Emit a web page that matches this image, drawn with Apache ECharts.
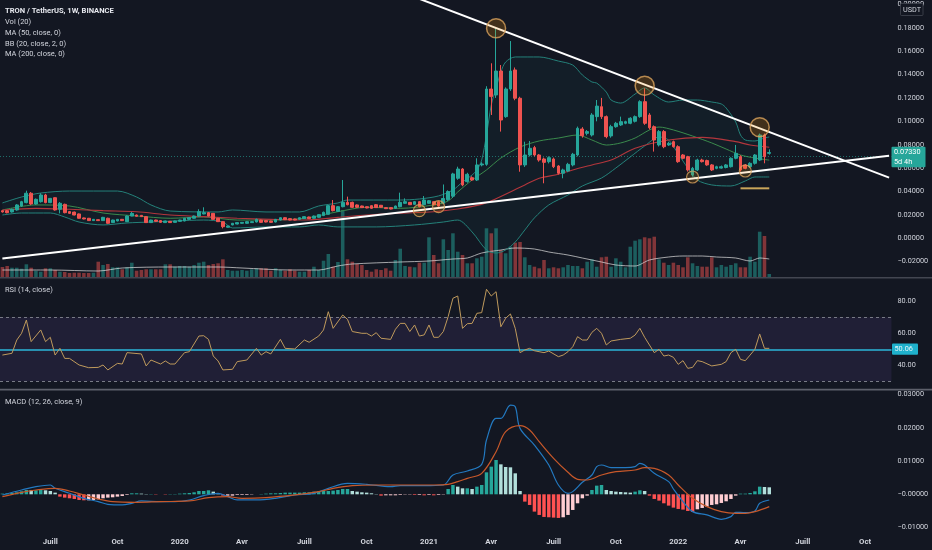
<!DOCTYPE html>
<html><head><meta charset="utf-8">
<script src="https://cdn.jsdelivr.net/npm/echarts@6.0.0/dist/echarts.min.js"></script>
<style>html,body{margin:0;padding:0;background:#131722;}#c{width:932px;height:550px;}</style>
</head><body><div id="c"></div>
<script>
// ---------- categories (weekly) ----------
const startDate = Date.UTC(2019, 3, 22);
const weekCount = 186;
const quarterMonths = [0, 3, 6, 9];
const quarterNames = ['', 'Avr', 'Juill', 'Oct'];

// ---------- price data (TRX/USDT weekly) ----------
const openP = [
.0236,.0236,.0225,.0242,.0276,.0305,.0385,.0293,.0313,.0370,
.0305,.0347,.0248,.0290,.0228,.0224,.0208,.0174,.0171,.0151,
.0159,.0151,.0171,.0134,.0148,.0162,.0142,.0190,.0199,.0196,
.0185,.0134,.0156,.0151,.0134,.0145,.0136,.0145,.0148,.0162,
.0171,.0190,.0208,.0219,.0213,.0171,.0142,.0094,.0114,.0122,
.0128,.0128,.0134,.0139,.0156,.0151,.0148,.0139,.0156,.0176,
.0168,.0165,.0162,.0168,.0182,.0171,.0179,.0194,.0205,.0279,
.0230,.0270,.0307,.0307,.0285,.0276,.0270,.0279,.0287,.0282,
.0262,.0262,.0256,.0270,.0299,.0307,.0290,.0313,.0287,.0299,
.0313,.0313,.0300,.0330,.0360,.0513,.0592,.0484,.0518,.0498,
.0627,.0632,.1276,.1225,.1430,.1040,.1276,.1439,.1197,.0627,
.0712,.0775,.0712,.0678,.0655,.0678,.0618,.0556,.0575,.0627,
.0712,.0934,.0897,.0883,.1040,.1125,.1040,.0875,.0954,.0969,
.0983,.0983,.1000,.1040,.1168,.1054,.0954,.0798,.0912,.0798,
.0826,.0783,.0712,.0698,.0541,.0584,.0669,.0664,.0627,.0598,
.0600,.0605,.0612,.0684,.0698,.0627,.0612,.0641,.0669,.0883,.0726];
const highP = [
.0240,.0242,.0253,.0292,.0320,.0407,.0395,.0340,.0385,.0380,
.0345,.0350,.0310,.0296,.0232,.0228,.0212,.0177,.0174,.0165,
.0162,.0183,.0176,.0159,.0165,.0165,.0196,.0225,.0203,.0199,
.0188,.0159,.0159,.0154,.0151,.0148,.0151,.0159,.0174,.0179,
.0194,.0248,.0265,.0225,.0216,.0174,.0145,.0108,.0131,.0137,
.0139,.0145,.0145,.0168,.0159,.0154,.0151,.0165,.0179,.0179,
.0171,.0168,.0179,.0188,.0185,.0194,.0205,.0228,.0285,.0327,
.0276,.0498,.0356,.0313,.0290,.0279,.0273,.0282,.0293,.0285,
.0265,.0265,.0279,.0390,.0341,.0310,.0316,.0316,.0361,.0327,
.0316,.0316,.0460,.0410,.0560,.0612,.0600,.0560,.0530,.0684,
.0650,.1300,.1496,.1795,.1481,.1290,.1686,.1460,.1210,.0826,
.0832,.0790,.0720,.0690,.0700,.0690,.0625,.0595,.0645,.0730,
.0955,.0950,.0925,.1070,.1182,.1200,.1050,.0970,.0995,.1040,
.1005,.1035,.1050,.1180,.1282,.1070,.0965,.0925,.0925,.0825,
.0835,.0795,.0720,.0705,.0610,.0680,.0680,.0672,.0635,.0620,
.0622,.0635,.0692,.0798,.0710,.0635,.0650,.0720,.0895,.0895,.0760];
const lowP = [
.0220,.0213,.0220,.0236,.0270,.0299,.0285,.0287,.0305,.0299,
.0300,.0236,.0213,.0213,.0208,.0196,.0168,.0162,.0148,.0148,
.0148,.0148,.0125,.0131,.0145,.0148,.0139,.0188,.0185,.0182,
.0131,.0131,.0142,.0133,.0131,.0131,.0134,.0142,.0145,.0159,
.0168,.0185,.0205,.0188,.0159,.0139,.0085,.0091,.0111,.0119,
.0125,.0125,.0131,.0136,.0133,.0136,.0133,.0136,.0153,.0156,
.0153,.0153,.0159,.0165,.0165,.0168,.0176,.0190,.0202,.0230,
.0225,.0265,.0282,.0259,.0259,.0259,.0256,.0253,.0259,.0262,
.0250,.0247,.0253,.0265,.0296,.0284,.0287,.0265,.0282,.0296,
.0282,.0270,.0293,.0320,.0345,.0500,.0445,.0475,.0490,.0490,
.0615,.0620,.1054,.1200,.0912,.1030,.1260,.1180,.0569,.0610,
.0700,.0700,.0655,.0470,.0640,.0600,.0545,.0513,.0565,.0615,
.0700,.0860,.0880,.0870,.1000,.1020,.0855,.0860,.0945,.0960,
.0975,.0975,.0990,.1030,.0970,.0930,.0741,.0785,.0770,.0790,
.0775,.0645,.0675,.0570,.0527,.0575,.0648,.0620,.0575,.0590,
.0595,.0598,.0605,.0675,.0570,.0590,.0600,.0630,.0660,.0641,.0715];
const closeP = [
.0225,.0219,.0248,.0285,.0313,.0385,.0293,.0333,.0370,.0305,
.0341,.0242,.0299,.0219,.0213,.0199,.0171,.0165,.0151,.0162,
.0151,.0179,.0128,.0156,.0162,.0151,.0190,.0213,.0188,.0185,
.0134,.0156,.0145,.0136,.0148,.0134,.0148,.0156,.0171,.0176,
.0190,.0228,.0219,.0190,.0162,.0142,.0099,.0105,.0128,.0134,
.0136,.0142,.0142,.0162,.0136,.0139,.0136,.0162,.0176,.0159,
.0156,.0156,.0176,.0185,.0168,.0190,.0202,.0222,.0279,.0236,
.0270,.0307,.0287,.0265,.0265,.0262,.0259,.0256,.0262,.0265,
.0253,.0250,.0276,.0307,.0313,.0287,.0313,.0270,.0327,.0321,
.0287,.0276,.0340,.0400,.0550,.0592,.0456,.0547,.0498,.0627,
.0635,.1276,.1211,.1430,.1011,.1276,.1430,.1197,.0627,.0712,
.0769,.0712,.0669,.0649,.0689,.0612,.0556,.0584,.0632,.0718,
.0940,.0877,.0912,.1054,.1130,.1040,.0869,.0954,.0983,.0997,
.0997,.1026,.1040,.1168,.0983,.0945,.0840,.0912,.0783,.0812,
.0783,.0655,.0684,.0584,.0598,.0669,.0655,.0627,.0584,.0612,
.0612,.0627,.0684,.0726,.0584,.0598,.0641,.0712,.0883,.0698,.0733];

// volume (relative units)
const volume = [
100,110,93,93,83,127,93,63,53,87,
87,70,53,50,40,43,43,40,40,43,
153,120,130,97,97,77,97,143,63,70,
77,77,77,77,127,127,103,110,110,103,
120,143,153,120,130,137,177,70,63,63,
70,63,77,87,87,87,63,87,70,63,
77,63,53,53,70,103,70,163,230,103,
150,670,177,153,130,120,70,53,77,70,
87,63,170,283,110,103,97,143,143,397,
220,137,377,270,437,253,220,137,137,187,
203,487,437,487,270,237,303,343,350,197,
120,103,87,170,87,97,87,97,120,110,
110,87,153,177,103,197,203,103,187,153,
97,303,363,377,397,387,403,177,143,120,
143,120,97,197,137,110,103,103,197,97,
120,103,120,137,97,97,203,153,453,410,30];
const volMA = [[0,70],[10,70],[20,60],[25,90],[35,100],[45,100],[50,90],[60,70],[66,70],[70,110],[73,130],[83,150],[89,160],[94,180],[97,190],[100,240],[104,270],[107,290],[111,280],[114,250],[118,220],[121,190],[125,150],[128,120],[132,110],[135,170],[139,200],[142,210],[146,210],[149,200],[153,190],[156,160],[158,190],[160,180]];

// indicators: [week index, value]
const ma50 = [[0,.0242],[7,.0256],[14,.0248],[21,.0236],[28,.0227],[35,.0199],[42,.0185],[49,.0171],[56,.0162],[63,.0156],[70,.0179],[76,.0199],[83,.0214],[90,.0227],[95,.0250],[100,.0290],[102,.0320],[109,.0456],[112,.0513],[116,.0547],[119,.0584],[123,.0627],[127,.0669],[132,.0769],[139,.0840],[146,.0863],[153,.0826],[156,.0797],[160,.0778]];
const bbBasis = [[0,.0242],[7,.0285],[14,.0276],[21,.0216],[28,.0191],[35,.0171],[42,.0182],[49,.0156],[56,.0156],[63,.0171],[70,.0227],[76,.0265],[83,.0256],[90,.0285],[93,.0319],[95,.0396],[98,.0498],[101,.0584],[104,.0686],[108,.0780],[112,.0832],[116,.0857],[120,.0883],[123,.0840],[126,.0797],[129,.0815],[132,.0857],[135,.0926],[137,.0951],[140,.0926],[144,.0874],[148,.0815],[151,.0763],[154,.0712],[157,.0686],[160,.0668]];
const bbUpper = [[0,.0302],[4,.0353],[8,.0387],[14,.0404],[24,.0404],[28,.0353],[31,.0285],[35,.0233],[45,.0225],[48,.0242],[55,.0225],[62,.0225],[66,.0276],[70,.0302],[72,.0327],[83,.0327],[87,.0336],[91,.0362],[94,.0413],[96,.0481],[98,.0541],[99,.0584],[100,.0669],[101,.0883],[102,.1139],[103,.1285],[104,.1421],[105,.1507],[107,.1550],[112,.1550],[116,.1515],[119,.1481],[121,.1396],[123,.1336],[124,.1327],[126,.1250],[127,.1182],[129,.1156],[132,.1233],[134,.1285],[136,.1225],[139,.1165],[142,.1182],[145,.1182],[148,.1165],[150,.1148],[151,.1114],[153,.0994],[154,.0883],[155,.0840],[157,.0832],[159,.0857],[160,.0866]];
const bbLower = [[0,.0199],[4,.0216],[10,.0216],[13,.0182],[16,.0139],[21,.0114],[26,.0131],[31,.0139],[36,.0148],[42,.0156],[46,.0139],[48,.0088],[55,.0097],[62,.0097],[66,.0114],[70,.0097],[78,.0097],[86,.0114],[92,.0139],[95,.0156],[98,.0054],[101,-.0100],[103,-.0126],[105,-.0100],[107,-.0032],[109,.0071],[111,.0174],[114,.0285],[118,.0370],[121,.0447],[125,.0515],[128,.0601],[131,.0695],[134,.0789],[137,.0866],[139,.0840],[141,.0721],[143,.0601],[145,.0498],[148,.0456],[152,.0447],[155,.0490],[157,.0524],[160,.0524]];

const rsi = [[0,46.4],[2,47.5],[3,55.8],[4,60],[5,68.3],[6,54.8],[8,62.1],[9,54.8],[10,57.5],[11,46.4],[12,50.6],[13,44.3],[14,44.3],[16,40.2],[18,38.5],[20,38.7],[21,40.2],[22,37.1],[24,41.2],[25,40.8],[26,47.9],[29,47.1],[30,39.6],[31,43.3],[33,40.8],[34,42.7],[35,40.8],[36,40.8],[38,47.9],[39,48.5],[41,58.3],[42,58.5],[43,56.2],[44,45.8],[45,42.7],[46,37.1],[48,37.5],[49,42.3],[51,43.3],[53,50.6],[54,46.4],[55,48.5],[56,47.1],[58,56.2],[59,50.6],[61,50.2],[63,55.8],[64,54.4],[66,58.3],[67,62.1],[68,73.5],[69,63.1],[71,71.4],[72,68.7],[73,61.1],[75,60],[76,60],[77,58.3],[78,60.4],[79,56.9],[81,56.2],[82,62.5],[83,66.2],[84,66.2],[85,61.1],[86,65.2],[87,58.3],[88,59],[89,65.2],[90,57.5],[91,57.5],[92,61.1],[93,70.4],[94,81.9],[95,83.3],[96,63.1],[97,66],[98,66.2],[99,72.5],[100,72.9],[101,87.5],[102,83.3],[103,86.0],[104,64.1],[105,69.4],[106,72.1],[107,63.1],[108,47.9],[109,49.6],[110,50.6],[111,49.1],[113,47.9],[114,48.9],[116,45.4],[117,46.4],[118,48.5],[119,51.6],[120,57.9],[121,55.8],[122,55.8],[123,60.6],[124,63.1],[125,60],[126,52.7],[127,55.2],[129,56.2],[131,56.9],[132,58.9],[133,63.1],[134,57.5],[136,47.9],[137,50],[138,45.8],[139,46.4],[140,45],[141,40.6],[142,42.9],[143,38.1],[144,38.7],[145,42.9],[146,42.3],[148,39.6],[150,40.6],[151,42.3],[152,47.9],[153,50],[154,43.7],[155,42.9],[156,46.4],[157,50],[158,59.6],[159,50.6],[160,50.6]];

const macd = [[0,-.0002],[4,.0013],[7,.0023],[10,.0028],[11,.0018],[14,.0003],[17,-.0012],[20,-.0022],[22,-.0030],[25,-.0032],[27,-.0027],[29,-.0020],[33,-.0022],[36,-.0022],[39,-.0017],[42,-.0004],[45,.0003],[47,-.0007],[49,-.0017],[53,-.0017],[57,-.0012],[61,-.0002],[65,.0003],[68,.0018],[72,.0033],[76,.0030],[81,.0023],[83,.0026],[88,.0026],[92,.0028],[94,.0058],[97,.0070],[100,.0090],[101,.0163],[103,.0228],[104,.0228],[106,.0268],[107,.0263],[108,.0198],[111,.0148],[114,.0088],[116,.0028],[118,.0003],[119,.0008],[121,.0036],[123,.0058],[124,.0083],[125,.0088],[127,.0080],[130,.0080],[132,.0083],[133,.0093],[134,.0088],[136,.0063],[139,.0038],[140,.0016],[142,-.0022],[144,-.0052],[147,-.0062],[150,-.0075],[152,-.0067],[153,-.0054],[155,-.0055],[157,-.0050],[158,-.0027],[160,-.0017]];
const signal = [[0,-.0007],[4,.0006],[7,.0013],[11,.0018],[14,.0010],[17,-.0002],[20,-.0014],[23,-.0022],[28,-.0024],[33,-.0022],[39,-.0020],[43,-.0010],[47,-.0007],[50,-.0012],[55,-.0010],[61,-.0002],[66,.0008],[69,.0018],[73,.0026],[78,.0028],[83,.0028],[90,.0028],[93,.0030],[95,.0038],[97,.0048],[100,.0063],[103,.0128],[105,.0188],[108,.0206],[110,.0193],[112,.0158],[115,.0108],[118,.0066],[120,.0045],[122,.0043],[125,.0058],[128,.0068],[132,.0073],[134,.0080],[136,.0078],[139,.0058],[141,.0028],[144,-.0012],[147,-.0037],[150,-.0052],[153,-.0057],[155,-.0057],[157,-.0052],[160,-.0037]];
const hist = [
.0002,.0003,.0004,.0006,.0009,.0013,.0012,.0012,.0013,.0012,
.0010,.0005,-.0007,-.0010,-.0012,-.0014,-.0017,-.0018,-.0018,-.0017,
-.0015,-.0012,-.0010,-.0009,-.0007,-.0005,-.0002,.0003,.0003,.0002,
.0001,.0001,-.0001,.0000,-.0001,.0001,.0001,.0002,.0003,.0004,
.0006,.0010,.0010,.0012,.0008,.0003,-.0004,-.0004,-.0004,-.0002,
-.0002,-.0002,-.0001,.0000,.0001,.0002,.0003,.0003,.0004,.0005,
.0005,.0005,.0005,.0006,.0006,.0008,.0009,.0010,.0010,.0011,
.0013,.0016,.0016,.0010,.0008,.0006,.0005,.0003,.0001,-.0004,
-.0003,-.0003,-.0003,-.0002,-.0001,-.0001,-.0002,-.0002,-.0003,-.0002,
-.0003,-.0002,-.0001,.0016,.0028,.0023,.0018,.0018,.0016,.0023,
.0028,.0066,.0083,.0103,.0090,.0082,.0081,.0063,.0010,-.0022,
-.0032,-.0052,-.0062,-.0068,-.0069,-.0070,-.0071,-.0069,-.0062,-.0047,
-.0027,-.0012,-.0004,.0013,.0026,.0028,.0013,.0010,.0008,.0007,
.0006,.0005,.0008,.0012,.0010,-.0004,-.0014,-.0019,-.0027,-.0034,
-.0040,-.0044,-.0046,-.0050,-.0053,-.0045,-.0041,-.0037,-.0032,-.0030,
-.0026,-.0021,-.0014,-.0004,.0002,.0002,.0004,.0009,.0023,.0022,.0021];

// drawings (week index, price)
const trendUpper = [[87, 0.2047], [185, 0.0519]];
const trendLower = [[0, -0.0172], [185, 0.0706]];
const bigCircles = [[103, 0.1795], [134, 0.1304], [158, 0.0949]];
const smallCircles = [[87, 0.0236], [91, 0.0270], [144, 0.0524], [155, 0.0575]];
const supportMark = [[154, 0.0427], [160, 0.0427]];
const lastClose = 0.0733;
const lastRsi = 50.06;

// axis ticks
const priceTicks = [-0.02, 0, 0.02, 0.04, 0.06, 0.08, 0.10, 0.12, 0.14, 0.16, 0.18, 0.20];
const rsiTicks = [40, 60, 80];
const macdTicks = [-0.01, 0, 0.01, 0.02, 0.03];

// ---------- build ----------
const DAY = 86400000;
const categories = [];
for (let k = 0; k < weekCount; k++) categories.push(new Date(startDate + k * 7 * DAY).toISOString().slice(0, 10));

const UP = '#26a69a', DOWN = '#ef5350';
const candles = openP.map((o, k) => [o, closeP[k], lowP[k], highP[k]]);
const volData = volume.map((v, k) => ({ value: v, itemStyle: { color: closeP[k] >= openP[k] ? 'rgba(38,166,154,0.5)' : 'rgba(239,83,80,0.5)' } }));
const histData = hist.map((v, k) => {
  const p = k > 0 ? hist[k - 1] : 0;
  let c;
  if (v >= 0) c = v >= p ? '#26a69a' : '#b2dfdb';
  else c = v < p ? '#ff5252' : '#ffcdd2';
  return { value: v, itemStyle: { color: c } };
});

function isQuarterStart(value) {
  const d = new Date(value + 'T00:00:00Z');
  return d.getUTCDate() <= 7 && quarterMonths.indexOf(d.getUTCMonth()) >= 0;
}
function quarterLabel(value) {
  const d = new Date(value + 'T00:00:00Z');
  const q = quarterMonths.indexOf(d.getUTCMonth());
  return q === 0 ? String(d.getUTCFullYear()) : quarterNames[q];
}
const minus = '\u2212';
function fmtPrice(v) { return (v < -1e-9 ? minus : '') + Math.abs(v).toFixed(5); }
function fmtMacd(v) { return (v <= 1e-9 ? minus : '') + Math.abs(v).toFixed(5); }

const FONT = 'Roboto, "Noto Sans", sans-serif';
const TXT = '#d1d4dc';
const GL = -3.506, GW = 895.0;

const xBase = (idx, showLabels) => ({
  type: 'category', gridIndex: idx, data: categories, boundaryGap: true,
  axisLine: { show: false }, axisTick: { show: false }, splitLine: { show: false },
  axisLabel: showLabels ? {
    show: true, interval: (i, v) => isQuarterStart(v), formatter: v => quarterLabel(v),
    color: TXT, fontSize: 7.8, fontWeight: 'bold', margin: 3, fontFamily: FONT
  } : { show: false },
  axisPointer: { show: false }
});
const yLabel = (vals, fmt) => ({ show: true, customValues: vals, formatter: fmt, color: TXT, fontSize: 7.3, margin: 6, fontFamily: FONT });

const lineS = (data, color, width, xi, yi, extra) => Object.assign({
  type: 'line', data: data, xAxisIndex: xi, yAxisIndex: yi, showSymbol: false, symbol: 'none',
  lineStyle: { color: color, width: width }, silent: true, animation: false
}, extra || {});

const chart = echarts.init(document.getElementById('c'), null, { renderer: 'canvas' });
const option = {
  backgroundColor: '#131722',
  animation: false,
  textStyle: { fontFamily: FONT },
  grid: [
    { left: GL, top: 0, width: GW, height: 277 },
    { left: GL, top: 278, width: GW, height: 111 },
    { left: GL, top: 390, width: GW, height: 145 }
  ],
  xAxis: [xBase(0, false), xBase(1, false), xBase(2, true)],
  yAxis: [
    { type: 'value', gridIndex: 0, position: 'right', min: -0.0331, max: 0.2037, splitLine: { show: false }, axisLine: { show: false }, axisTick: { show: false }, axisLabel: yLabel(priceTicks, fmtPrice) },
    { type: 'value', gridIndex: 0, min: 0, max: 2770, show: false, splitLine: { show: false } },
    { type: 'value', gridIndex: 1, position: 'right', min: 25.19, max: 94.56, splitLine: { show: false }, axisLine: { show: false }, axisTick: { show: false }, axisLabel: yLabel(rsiTicks, v => v.toFixed(2)) },
    { type: 'value', gridIndex: 2, position: 'right', min: -0.01222, max: 0.03132, splitLine: { show: false }, axisLine: { show: false }, axisTick: { show: false }, axisLabel: yLabel(macdTicks, fmtMacd) }
  ],
  series: [
    { type: 'custom', xAxisIndex: 0, yAxisIndex: 0, data: [[0, 0.05]], silent: true, z: 1,
      renderItem: function (params, api) {
        const pts = [];
        bbUpper.forEach(d => pts.push(api.coord([d[0], d[1]])));
        for (let k = bbLower.length - 1; k >= 0; k--) pts.push(api.coord([bbLower[k][0], bbLower[k][1]]));
        return { type: 'polygon', shape: { points: pts, smooth: 0 }, style: { fill: 'rgba(38,166,154,0.055)' } };
      } },
    { type: 'bar', data: volData, xAxisIndex: 0, yAxisIndex: 1, barWidth: '74%', silent: true, z: 2 },
    lineS(volMA, 'rgba(225,225,225,0.7)', 1, 0, 1, { z: 3, smooth: 0.3 }),
    lineS(bbUpper, '#24817a', 1, 0, 0, { z: 3, smooth: 0.3 }),
    lineS(bbLower, '#24817a', 1, 0, 0, { z: 3, smooth: 0.3 }),
    lineS(bbBasis, '#3a8a4c', 1, 0, 0, { z: 3, smooth: 0.3 }),
    lineS(ma50, '#b3363c', 1.1, 0, 0, { z: 3, smooth: 0.3 }),
    { type: 'candlestick', data: candles, xAxisIndex: 0, yAxisIndex: 0, barWidth: '68%', silent: true, z: 5,
      itemStyle: { color: UP, color0: DOWN, borderColor: UP, borderColor0: DOWN, borderWidth: 1 },
      markLine: { silent: true, symbol: 'none', label: { show: false },
        lineStyle: { color: 'rgba(38,166,154,0.6)', type: [1, 2], width: 1 },
        data: [{ yAxis: lastClose }] } },
    lineS(trendUpper, '#ffffff', 2, 0, 0, { z: 6 }),
    lineS(trendLower, '#ffffff', 2, 0, 0, { z: 6 }),
    lineS(supportMark, '#c9a55a', 2, 0, 0, { z: 6 }),
    { type: 'scatter', data: bigCircles, xAxisIndex: 0, yAxisIndex: 0, symbolSize: 19, silent: true, z: 7,
      itemStyle: { color: 'rgba(255,152,0,0.25)', borderColor: '#d9a35c', borderWidth: 1.5 } },
    { type: 'scatter', data: smallCircles, xAxisIndex: 0, yAxisIndex: 0, symbolSize: 12, silent: true, z: 7,
      itemStyle: { color: 'rgba(255,152,0,0.2)', borderColor: '#d9a35c', borderWidth: 1.2 } },
    // RSI
    lineS(rsi, '#bf9a5c', 1, 1, 2, { z: 5,
      markArea: { silent: true, itemStyle: { color: 'rgba(126,87,194,0.13)' }, data: [[{ yAxis: 30 }, { yAxis: 70 }]] },
      markLine: { silent: true, symbol: 'none', label: { show: false }, data: [
        { yAxis: 70, lineStyle: { color: '#787b86', type: [3, 3], width: 1 } },
        { yAxis: 30, lineStyle: { color: '#787b86', type: [3, 3], width: 1 } },
        { yAxis: 50, lineStyle: { color: '#2bb7da', type: 'solid', width: 1.5 } }
      ] } }),
    // MACD
    { type: 'bar', data: histData, xAxisIndex: 2, yAxisIndex: 3, barWidth: '72%', silent: true, z: 2 },
    lineS(macd, '#2379c0', 1.2, 2, 3, { z: 4, smooth: 0.35 }),
    lineS(signal, '#c7582a', 1.2, 2, 3, { z: 4, smooth: 0.35 })
  ]
};
chart.setOption(option);

const yPrice = chart.convertToPixel({ yAxisIndex: 0 }, lastClose);
const yRsi = chart.convertToPixel({ yAxisIndex: 2 }, lastRsi);
const txt = (t, x, y, font, fill) => ({ type: 'text', x: x, y: y, silent: true, z: 100,
  style: { text: t, fill: fill || TXT, font: font || ('7.5px ' + FONT), verticalAlign: 'middle', align: 'left' } });
chart.setOption({
  graphic: [
    { type: 'line', silent: true, z: 90, shape: { x1: 0, y1: 277.8, x2: 932, y2: 277.8 }, style: { stroke: '#434651', lineWidth: 1.4 } },
    { type: 'line', silent: true, z: 90, shape: { x1: 0, y1: 389.6, x2: 932, y2: 389.6 }, style: { stroke: '#5d606b', lineWidth: 1.6 } },
    txt('TRON / TetherUS, 1W, BINANCE', 5, 10.7, 'bold 7.6px ' + FONT, '#e6e8ee'),
    txt('Vol (20)', 5, 22.3),
    txt('MA (50, close, 0)', 5, 33.3),
    txt('BB (20, close, 2, 0)', 5, 44),
    txt('MA (200, close, 0)', 5, 54.5),
    txt('RSI (14, close)', 5, 290),
    txt('MACD (12, 26, close, 9)', 5, 401.7),
    { type: 'rect', silent: true, z: 95, shape: { x: 900.5, y: 3.5, width: 22.5, height: 12, r: 1 }, style: { fill: '#131722', stroke: '#434651', lineWidth: 0.8 } },
    txt('USDT', 903, 9.8, '7.3px ' + FONT),
    { type: 'rect', silent: true, z: 95, shape: { x: 891.5, y: yPrice - 5.8, width: 34, height: 20.5, r: 1 }, style: { fill: '#26a69a' } },
    txt('0.07330', 894, yPrice - 0.2, '7.3px ' + FONT, '#ffffff'),
    txt('5d 4h', 894, yPrice + 9.6, '7.3px ' + FONT, '#ffffff'),
    { type: 'rect', silent: true, z: 95, shape: { x: 892, y: yRsi - 5.6, width: 26, height: 11.2, r: 1 }, style: { fill: '#1fb1cc' } },
    txt(lastRsi.toFixed(2), 894.5, yRsi + 0.2, '7.3px ' + FONT, '#e8f6fa')
  ]
});
</script></body></html>
